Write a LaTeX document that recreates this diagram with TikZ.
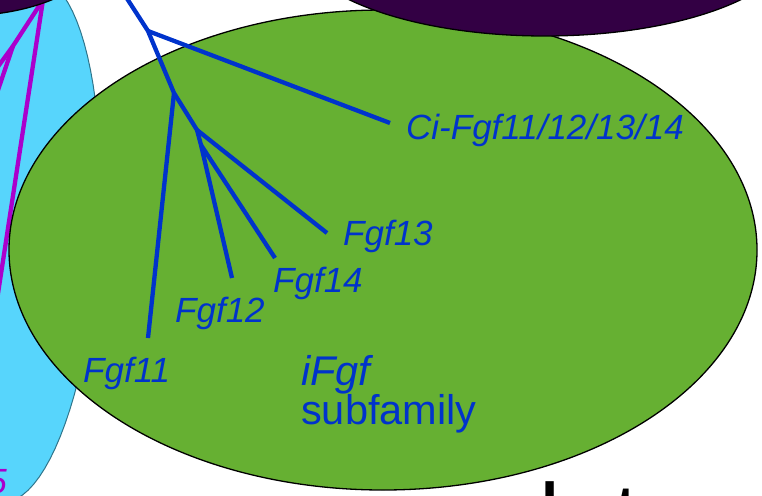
\documentclass[tikz,border=0pt]{standalone}
\usepackage{fontspec}
\setmainfont{Liberation Sans}
\definecolor{leafgreen}{HTML}{66B032}
\definecolor{skycyan}{HTML}{57D5FC}
\definecolor{deepplum}{HTML}{330044}
\definecolor{treeblue}{HTML}{0033CC}
\definecolor{treemag}{HTML}{AA00CC}
\begin{document}
\begin{tikzpicture}[x=1pt,y=-1pt,
  blob/.style={draw=black,line width=1.3pt},
  branch/.style={draw=treeblue,line width=4.3pt},
  mbranch/.style={draw=treemag,line width=4.3pt},
  gene/.style={text=treeblue,font=\fontsize{35}{40}\selectfont\itshape,inner sep=0pt,anchor=base west},
  tag/.style={text=treeblue,font=\fontsize{41.5}{46}\selectfont,inner sep=0pt,anchor=base west}]
  \useasboundingbox (0,0) rectangle (762,495);
  % left subfamily
  \fill[skycyan,draw=black!45!skycyan,line width=1pt]
    plot[domain=0:360,samples=90] ({20+79*cos(\x)-16*sin(\x)},{240+262*sin(\x)}) -- cycle;
  \coordinate (mroot) at (43,0);
  \coordinate (mfork) at (13,46);
  \draw[mbranch] (mroot) -- (-3,300);
  \draw[mbranch] (mroot) -- (mfork) -- (-3,68);
  \draw[mbranch] (mfork) -- (-3,93);
  \node[text=treemag,font=\fontsize{35}{40}\selectfont\itshape,inner sep=0pt,anchor=base east] (five) at (7,493) {5};
  \draw[blob,fill=deepplum] (-40,-50) ellipse [x radius=140pt,y radius=66pt];
  % iFgf subfamily
  \draw[blob,fill=leafgreen] (383,250) ellipse [x radius=374pt,y radius=240pt];
  \draw[blob,fill=deepplum] (545,-60) ellipse [x radius=250pt,y radius=96pt];
  \coordinate (top) at (126,-3);
  \coordinate (a) at (148,31);
  \coordinate (b) at (174,93);
  \coordinate (c) at (197,130);
  \coordinate (d) at (201,145);
  \coordinate (eci) at (390,123);
  \coordinate (e11) at (148,338);
  \coordinate (e12) at (232,278);
  \coordinate (e13) at (327,233);
  \coordinate (e14) at (275,258);
  \draw[branch] (top) -- (a) -- (b) -- (c) -- (d) -- (e12);
  \draw[branch] (a) -- (eci);
  \draw[branch] (b) -- (e11);
  \draw[branch] (c) -- (e13);
  \draw[branch] (d) -- (e14);
  \node[gene] (ci) at (406,139) {Ci-Fgf11/12/13/14};
  \node[gene] (f13) at (343,245) {Fgf13};
  \node[gene] (f14) at (273,292) {Fgf14};
  \node[gene] (f12) at (175,322) {Fgf12};
  \node[gene] (f11) at (83,382) {Fgf11};
  \node[tag,font=\fontsize{41.5}{46}\selectfont\itshape] (ifgf) at (301,385) {iFgf};
  \node[tag] (subfam) at (301,424) {subfamily};
  \node[font=\fontsize{95}{100}\selectfont,inner sep=0pt,anchor=base west] (title) at (539,550) {lat};
\end{tikzpicture}
\end{document}
